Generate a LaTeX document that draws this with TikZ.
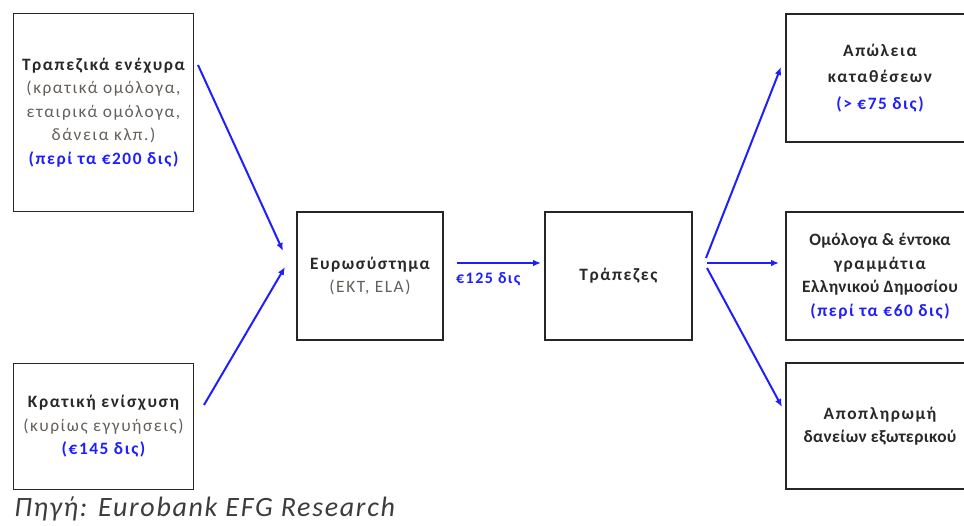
\documentclass[tikz,border=0pt]{standalone}
\usepackage{fontspec}
\setmainfont{Carlito}
\newfontfamily\boxfont{Carlito}[LetterSpace=9]
\newfontfamily\tightfont{Carlito}[LetterSpace=2]
\newfontfamily\srcfont{Carlito}[LetterSpace=6]
\usetikzlibrary{arrows.meta}
\definecolor{arrowblue}{RGB}{30,30,255}
\definecolor{titlegray}{RGB}{40,40,40}
\definecolor{subgray}{RGB}{100,95,90}
\definecolor{srcgray}{RGB}{60,60,60}
\tikzset{
  box/.style={draw=black!85, line width=1.3pt, align=center, inner sep=0pt, font=\boxfont\fontsize{13}{17.6}\selectfont},
  flow/.style={draw=arrowblue, line width=1.5pt, -{Latex[length=6pt,width=5pt]}},
}
\newcommand{\mhd}[1]{{\bfseries\color{titlegray}#1}}
\newcommand{\mht}[1]{{\tightfont\bfseries\color{titlegray}#1}}
\newcommand{\msb}[1]{{\color{subgray}#1}}
\newcommand{\mbl}[1]{{\bfseries\color{arrowblue}#1}}
\begin{document}
\begin{tikzpicture}[x=0.75pt,y=-0.75pt]
\useasboundingbox (0,0) rectangle (964,525);
\clip (0,0) rectangle (964,525);
\node[box, minimum width=135pt, minimum height=148.5pt] (A) at (103.5,112.5)
  {\mhd{Τραπεζικά ενέχυρα}\\\msb{(κρατικά ομόλογα,}\\\msb{εταιρικά ομόλογα,}\\\msb{δάνεια κλπ.)}\\\mbl{(περί τα €200 δις)}};
\node[box, minimum width=135pt, minimum height=94.5pt] (B) at (103.5,426.5)
  {\mhd{Κρατική ενίσχυση}\\\msb{(κυρίως εγγυήσεις)}\\\mbl{(€145 δις)}};
\node[box, minimum width=109.5pt, minimum height=96pt] (C) at (370,276)
  {\mhd{Ευρωσύστημα}\\\msb{(EKT, ELA)}};
\node[box, minimum width=110pt, minimum height=96pt] (D) at (618.5,276)
  {\mhd{Τράπεζες}};
\node[box, minimum width=141pt, minimum height=96pt, font=\boxfont\fontsize{13}{20}\selectfont] (E) at (880,78)
  {\mhd{Απώλεια}\\\mhd{καταθέσεων}\\\mbl{(> €75 δις)}};
\node[box, minimum width=141pt, minimum height=96pt] (F) at (880,276)
  {\mht{Ομόλογα \& έντοκα}\\\mhd{γραμμάτια}\\\mht{Ελληνικού Δημοσίου}\\\mbl{(περί τα €60 δις)}};
\node[box, minimum width=141pt, minimum height=94.5pt] (G) at (880,426)
  {\mhd{Αποπληρωμή}\\\mht{δανείων εξωτερικού}};
\node[anchor=west, inner sep=0pt, font=\srcfont\fontsize{21}{24}\selectfont\itshape, text=srcgray] (src) at (14,509)
  {Πηγή: Eurobank EFG Research};
% arrow end points
\coordinate (a1) at (198,65);
\coordinate (c1) at (283,251);
\coordinate (b1) at (204,405);
\coordinate (c2) at (285,267);
\coordinate (c3) at (457,263);
\coordinate (d0) at (541,263);
\coordinate (d1) at (706,258);
\coordinate (e1) at (781,67);
\coordinate (d2) at (707,263);
\coordinate (f1) at (779,263);
\coordinate (d3) at (707,268);
\coordinate (g1) at (782,407);
\draw[flow] (a1) -- (c1);
\draw[flow] (b1) -- (c2);
\draw[flow] (c3) -- node[below=3pt, xshift=-8pt, font=\boxfont\fontsize{12}{14}\selectfont\bfseries, text=arrowblue] (lbl) {€125 δις} (d0);
\draw[flow] (d1) -- (e1);
\draw[flow] (d2) -- (f1);
\draw[flow] (d3) -- (g1);
\end{tikzpicture}
\end{document}
